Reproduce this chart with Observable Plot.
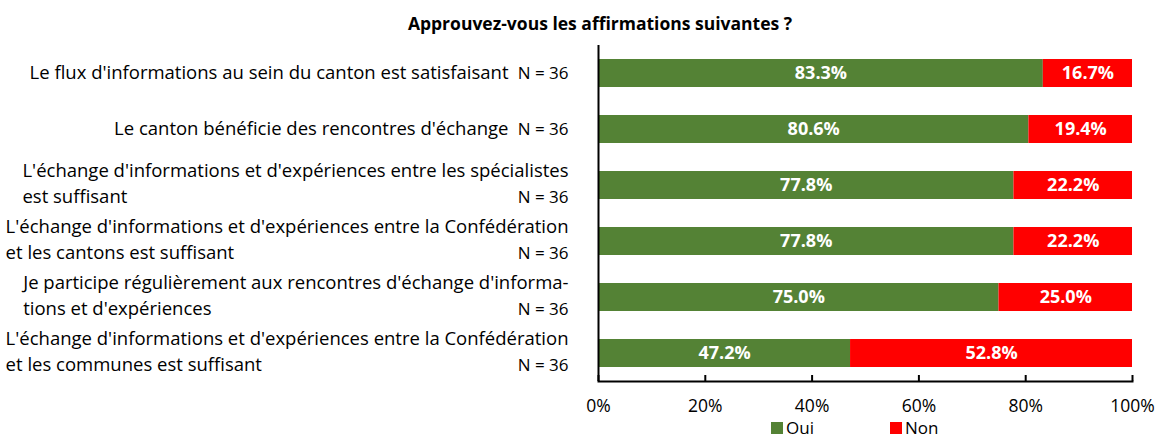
<!DOCTYPE html>
<html>
<head>
<meta charset="utf-8">
<script src="https://cdn.jsdelivr.net/npm/d3@7"></script>
<script src="https://cdn.jsdelivr.net/npm/@observablehq/plot@0.6"></script>
<style>
  html, body { margin: 0; padding: 0; background: #fff; overflow: hidden; }
  body { font-family: "Open Sans", Lato, sans-serif; color: #000; width: 1158px; height: 437px; }
  #title { box-sizing: border-box; height: 36px; padding-top: 12px; padding-left: 42px; width: 1158px;
           text-align: center; font-weight: bold; font-size: 17.5px; line-height: 22px; }
  #chart { height: 382px; }
  #legend { position: relative; height: 19px; font-size: 17px; line-height: 19px; }
  .item { position: absolute; top: 0; display: flex; align-items: center; }
  .sw { width: 12px; height: 12px; margin-right: 3px; }
</style>
</head>
<body>
<div id="title">Approuvez-vous les affirmations suivantes ?</div>
<div id="chart"></div>
<div id="legend"></div>
<script>
const questions = [
  "Le flux d'informations au sein du canton est satisfaisant",
  "Le canton bénéficie des rencontres d'échange",
  "L'échange d'informations et d'expériences entre les spécialistes est suffisant",
  "L'échange d'informations et d'expériences entre la Confédération et les cantons est suffisant",
  "Je participe régulièrement aux rencontres d'échange d'informations et d'expériences",
  "L'échange d'informations et d'expériences entre la Confédération et les communes est suffisant"
];
const line1 = [
  "Le flux d'informations au sein du canton est satisfaisant",
  "Le canton bénéficie des rencontres d'échange",
  "L'échange d'informations et d'expériences entre les spécialistes",
  "L'échange d'informations et d'expériences entre la Confédération",
  "Je participe régulièrement aux rencontres d'échange d'informa-",
  "L'échange d'informations et d'expériences entre la Confédération"
];
const line2 = [
  "",
  "",
  "est suffisant",
  "et les cantons est suffisant",
  "tions et d'expériences",
  "et les communes est suffisant"
];
const nValues = [36, 36, 36, 36, 36, 36];
const responses = ["Oui", "Non"];
const oui = [83.3, 80.6, 77.8, 77.8, 75.0, 47.2];
const non = [16.7, 19.4, 22.2, 22.2, 25.0, 52.8];
const xTicks = [0, 20, 40, 60, 80, 100];
const colors = ["#548235", "#FF0000"];

const fsLabel = 18.5, fsN = 17, fsValue = 18, fsTick = 17.5;
const fontFamily = "'Open Sans', Lato, sans-serif";
const W = 1158, ML = 598, MR = 26;

// measure first lines so that wrapped second lines start where the first line starts
const ctx = document.createElement("canvas").getContext("2d");
ctx.font = `${fsLabel}px "Open Sans"`;
const pxPerUnit = (W - ML - MR) / 100;

const table = [];
questions.forEach((q, i) => {
  table.push({q, response: "Oui", value: oui[i]});
  table.push({q, response: "Non", value: non[i]});
});
const labels = questions.map((q, i) => ({
  q, l1: line1[i], l2: line2[i], n: "N = " + nValues[i], two: line2[i] !== "",
  start: -ctx.measureText(line1[i]).width / pxPerUnit
}));
const single = labels.filter(d => !d.two);
const double = labels.filter(d => d.two);

const plot = Plot.plot({
  width: W,
  height: 382,
  marginLeft: ML,
  marginRight: MR,
  marginTop: 9,
  marginBottom: 37,
  style: {fontFamily, fontSize: fsLabel + "px", color: "#000", background: "#fff", overflow: "visible"},
  x: {domain: [0, 100], label: null},
  y: {domain: questions, paddingInner: 0.5, paddingOuter: 0.25, axis: null},
  color: {domain: responses, range: colors},
  marks: [
    Plot.barX(table, Plot.stackX({x: "value", y: "q", fill: "response", order: responses})),
    Plot.text(table, Plot.stackX({x: "value", y: "q", z: "response", order: responses,
      text: d => d.value.toFixed(1) + "%", fill: "white", fontWeight: "bold", fontSize: fsValue})),
    // single-line labels
    Plot.text(single, {x: 0, y: "q", text: "l1", textAnchor: "end", dx: -90, fontSize: fsLabel, fill: "black"}),
    Plot.text(single, {x: 0, y: "q", text: "n", textAnchor: "end", dx: -30, fontSize: fsN, fill: "black"}),
    // two-line labels
    Plot.text(double, {x: 0, y: "q", text: "l1", textAnchor: "end", dx: -30, dy: -14, fontSize: fsLabel, fill: "black"}),
    Plot.text(double, {x: "start", y: "q", text: "l2", textAnchor: "start", dx: -30, dy: 12, fontSize: fsLabel, fill: "black"}),
    Plot.text(double, {x: 0, y: "q", text: "n", textAnchor: "end", dx: -30, dy: 12, fontSize: fsN, fill: "black"}),
    Plot.ruleX([0], {stroke: "black", strokeWidth: 2}),
    Plot.frame({anchor: "bottom", stroke: "black", strokeWidth: 2}),
    Plot.axisX({ticks: xTicks, tickSize: -6, tickFormat: () => "", stroke: "black", strokeWidth: 2, label: null}),
    Plot.axisX({ticks: xTicks, tickSize: 0, tickPadding: 18, tickFormat: d => d + "%", fontSize: fsTick, fill: "black", label: null})
  ]
});
document.getElementById("chart").appendChild(plot);

const legend = document.getElementById("legend");
[["Oui", 771], ["Non", 890]].forEach(([r, left], i) => {
  const it = document.createElement("div");
  it.className = "item";
  it.style.left = left + "px";
  it.innerHTML = `<span class="sw" style="background:${colors[i]}"></span><span>${r}</span>`;
  legend.appendChild(it);
});
</script>
</body>
</html>
